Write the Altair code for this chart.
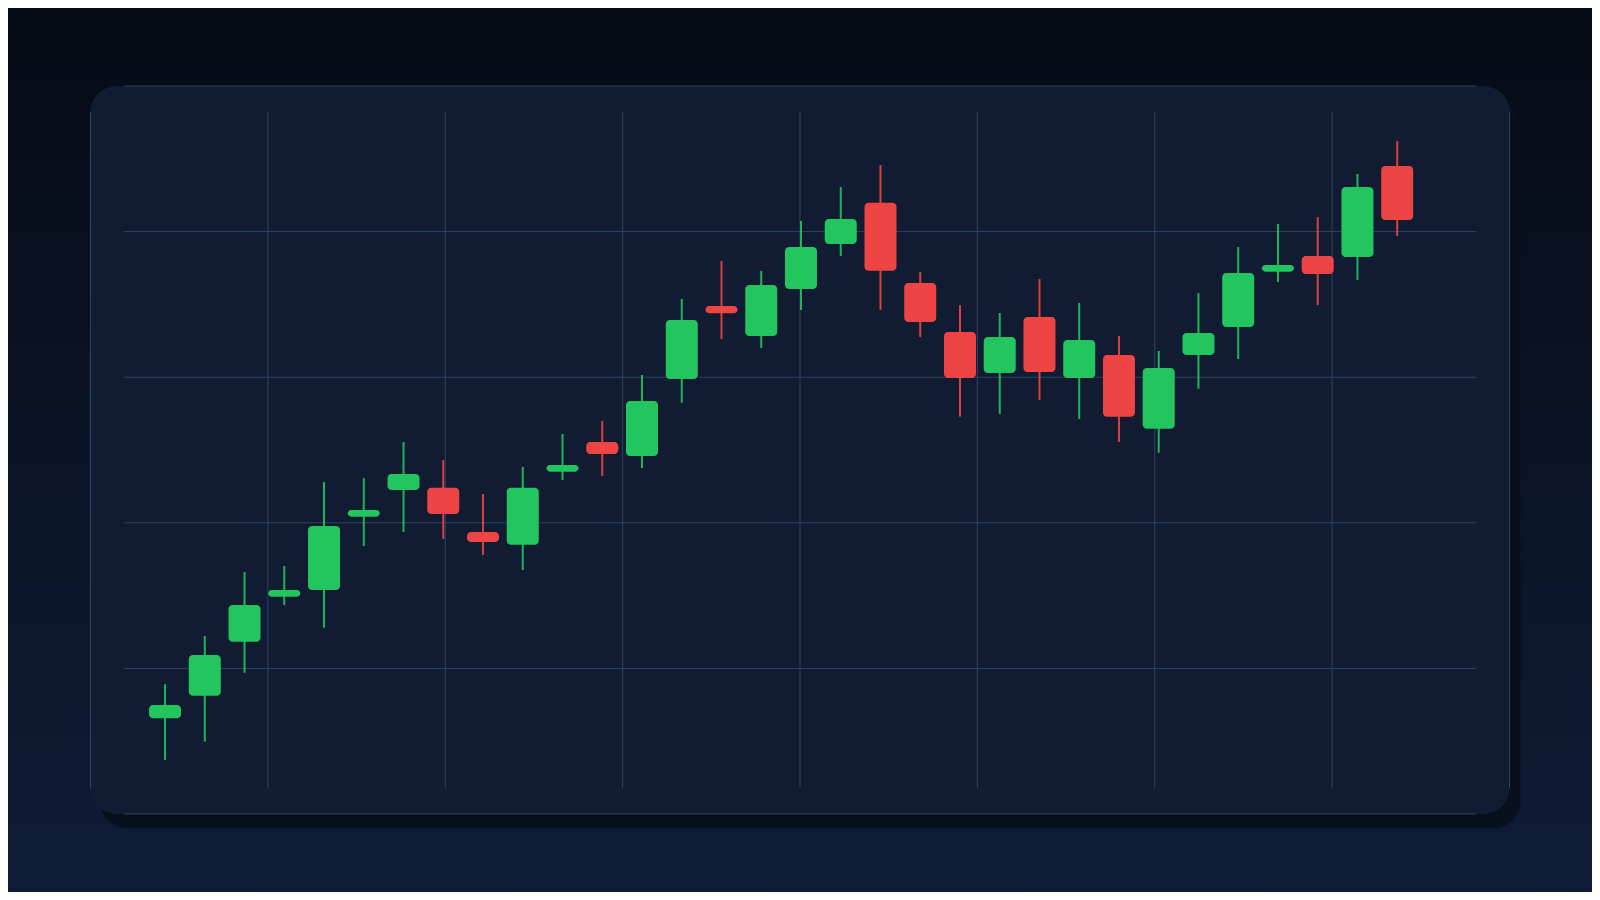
import altair as alt
import pandas as pd

# candle values, price units (one grid step = 10)
OPEN = [106.57, 108.13, 111.83, 114.92, 115.38, 120.42, 122.25, 122.41, 119.37, 118.50,
        123.51, 125.55, 124.59, 129.88, 134.89, 132.83, 136.06, 139.15, 141.98, 136.47,
        133.10, 130.29, 134.13, 129.95, 131.52, 126.46, 131.52, 133.45, 137.25, 138.32,
        138.26, 144.51]
CLOSE = [107.49, 110.92, 114.35, 115.38, 119.78, 120.88, 123.35, 120.60, 118.68, 122.41,
         123.97, 124.73, 128.37, 133.93, 134.39, 136.33, 138.94, 140.87, 137.31, 133.79,
         129.95, 132.76, 130.36, 132.55, 127.29, 130.63, 133.04, 137.16, 137.71, 137.09,
         143.06, 140.80]
HIGH = [108.91, 112.23, 116.62, 117.03, 122.80, 123.06, 125.55, 124.31, 121.98, 123.83,
        126.10, 126.99, 130.15, 135.37, 137.98, 137.29, 140.73, 143.06, 144.57, 137.23,
        134.96, 134.41, 136.74, 135.10, 132.83, 131.80, 135.78, 138.94, 140.52, 141.00,
        143.96, 146.22]
LOW = [103.71, 104.97, 109.70, 114.35, 112.80, 118.41, 119.37, 118.89, 117.79, 116.76,
       122.94, 123.21, 123.76, 128.25, 132.62, 132.01, 134.62, 138.32, 134.62, 132.76,
       127.29, 127.47, 128.43, 127.13, 125.55, 124.81, 129.21, 131.25, 136.54, 134.96,
       136.68, 139.70]

# grid positions (candle-index units on x, price on y)
PRICE_GRID = [100, 110, 120, 130, 140, 150]
TIME_GRID = [-1.875, 2.5875, 7.05, 11.5125, 15.975, 20.4375, 24.9, 29.3625, 33.825]

GREEN = "#22c55e"
RED = "#ef4444"
GRID = "#2b4566"
CARD = "#111b31"
SHADOW = "#07101b"

W, H = 1584, 884

xs = alt.Scale(domain=[-3.825, 35.775], nice=False, zero=False)
ys = alt.Scale(domain=[94.643, 155.357], nice=False, zero=False)

candles = pd.DataFrame({"open": OPEN, "close": CLOSE, "high": HIGH, "low": LOW})
candles["i"] = range(len(candles))
candles["dir"] = ["up" if c >= o else "down" for o, c in zip(OPEN, CLOSE)]

color = alt.Color("dir:N", scale=alt.Scale(domain=["up", "down"], range=[GREEN, RED]), legend=None)

page = alt.Chart(pd.DataFrame({"k": [0]})).mark_rect(
    color={
        "gradient": "linear", "x1": 0, "x2": 0, "y1": 0, "y2": 1,
        "stops": [{"offset": 0, "color": "#060b15"}, {"offset": 1, "color": "#0f1c37"}],
    }
).encode(x=alt.value(0), x2=alt.value(W), y=alt.value(0), y2=alt.value(H))

panels = pd.DataFrame({
    "x0": [-1.625, -1.875], "x1": [34.1, 33.825],
    "y0": [99.04, 100], "y1": [149.04, 150],
    "kind": ["shadow", "card"],
})
panel = alt.Chart(panels).mark_rect(cornerRadius=26).encode(
    x=alt.X("x0:Q", scale=xs, axis=None), x2="x1:Q",
    y=alt.Y("y0:Q", scale=ys, axis=None), y2="y1:Q",
    color=alt.Color("kind:N", scale=alt.Scale(domain=["shadow", "card"], range=[SHADOW, CARD]), legend=None),
    order=alt.Order("kind:N", sort="descending"),
)

hgrid = alt.Chart(pd.DataFrame({"p": PRICE_GRID, "a": -1.025, "b": 32.99})).mark_rule(
    color=GRID, strokeWidth=1
).encode(
    y=alt.Y("p:Q", scale=ys, axis=None),
    x=alt.X("a:Q", scale=xs, axis=None), x2="b:Q",
)
vgrid = alt.Chart(pd.DataFrame({"t": TIME_GRID, "a": 101.77, "b": 148.23})).mark_rule(
    color=GRID, strokeWidth=1
).encode(
    x=alt.X("t:Q", scale=xs, axis=None),
    y=alt.Y("a:Q", scale=ys, axis=None), y2="b:Q",
)

wicks = alt.Chart(candles).mark_rule(strokeWidth=2, opacity=0.9).encode(
    x=alt.X("i:Q", scale=xs, axis=None),
    y=alt.Y("low:Q", scale=ys, axis=None), y2="high:Q",
    color=color,
)
bodies = alt.Chart(candles).mark_bar(size=32, cornerRadius=4).encode(
    x=alt.X("i:Q", scale=xs, axis=None),
    y=alt.Y("open:Q", scale=ys, axis=None), y2="close:Q",
    color=color,
)

chart = (
    alt.layer(page, panel, hgrid, vgrid, wicks, bodies)
    .resolve_scale(color="independent")
    .properties(width=W, height=H, padding=0, background="#070c17",
                autosize=alt.AutoSizeParams(type="none"))
    .configure_view(stroke=None)
)

chart.save("out.html", embed_options={"renderer": "svg", "actions": False})
